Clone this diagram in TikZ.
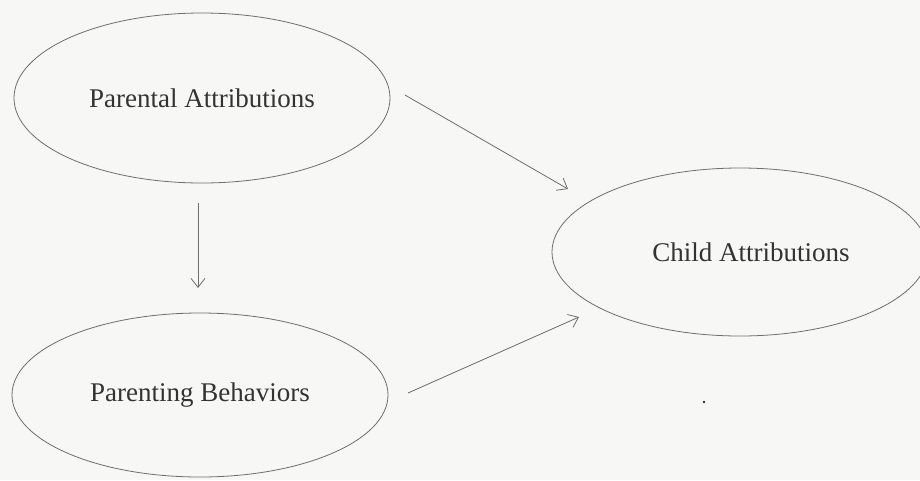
\documentclass[tikz,border=0pt]{standalone}
\usepackage{fontspec}
\setmainfont{Liberation Serif}
\usetikzlibrary{shapes.geometric,arrows.meta}
\definecolor{bg}{HTML}{F7F7F6}
\definecolor{ink}{HTML}{6E6E6E}
\definecolor{txt}{HTML}{333333}
\begin{document}
\begin{tikzpicture}[x=1pt,y=-1pt,
  oval/.style={ellipse,draw=ink,line width=0.8pt,minimum width=376pt,minimum height=170pt,inner sep=0pt,
    font=\fontsize{27}{30}\selectfont,text=txt},
  arr/.style={draw=ink,line width=0.8pt,-{Straight Barb[length=9pt,width=14pt,line width=0.8pt]}}]
\fill[bg] (0,0) rectangle (920,480);
\useasboundingbox (0,0) rectangle (920,480);
\node[oval] (pa) at (202,98) {Parental Attributions};
\node[oval,minimum height=164pt] (pb) at (200,395) {Parenting Behaviors};
\node[oval,minimum height=168pt,label={[font=\fontsize{27}{30}\selectfont,text=txt,xshift=11pt]center:Child Attributions}] (ca) at (740,252) {};
\coordinate (a1s) at (405,95);
\coordinate (a1e) at (568,189);
\coordinate (a2s) at (408,393);
\coordinate (a2e) at (579,317);
\coordinate (a3s) at (198,203);
\coordinate (a3e) at (198,288);
\draw[arr] (a1s) -- (a1e);
\draw[arr] (a2s) -- (a2e);
\draw[arr] (a3s) -- (a3e);
\fill[txt] (704,402) circle (1.3pt);
\end{tikzpicture}
\end{document}
